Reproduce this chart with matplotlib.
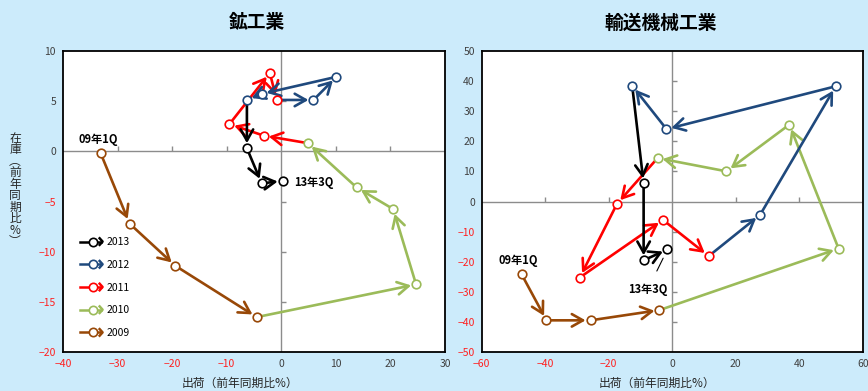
import matplotlib
matplotlib.use("Agg")
import matplotlib.pyplot as plt
from matplotlib.lines import Line2D
from matplotlib.legend_handler import HandlerBase
from matplotlib import markers

plt.rcParams['font.family'] = ['Noto Sans CJK JP', 'DejaVu Sans']

# quarters 2009Q1 .. 2013Q3
years = ["2009", "2010", "2011", "2012", "2013"]
year_colors = ["#984807", "#9BBB59", "#FF0000", "#1F497D", "#000000"]
quarters_per_year = [4, 4, 4, 4, 3]

# 鉱工業: shipments (x) / inventory (y), % y/y
mining_ship = [-33.1, -27.8, -19.4, -4.5,
               24.7, 20.5, 13.8, 4.9,
               -3.2, -9.5, -2.1, -0.85,
               5.9, 10.1, -3.6, -6.3,
               -6.3, -3.6, 0.25]
mining_inv = [-0.2, -7.2, -11.4, -16.5,
              -13.25, -5.75, -3.6, 0.8,
              1.55, 2.7, 7.8, 5.1,
              5.1, 7.4, 5.7, 5.1,
              0.3, -3.2, -2.95]

# 輸送機械工業
trans_ship = [-47.4, -39.6, -25.7, -4.0,
              52.4, 36.9, 17.1, -4.6,
              -17.4, -29.1, -2.9, 11.5,
              27.7, 51.5, -1.8, -12.6,
              -9.0, -9.0, -1.5]
trans_inv = [-24.2, -39.4, -39.4, -36.0,
             -15.6, 25.5, 10.0, 14.4,
             -0.8, -25.2, -6.1, -18.1,
             -4.4, 38.2, 24.0, 38.4,
             6.0, -19.5, -15.9]

mining_xticks = list(range(-40, 31, 10))
mining_yticks = list(range(-20, 11, 5))
trans_xticks = list(range(-60, 61, 20))
trans_yticks = list(range(-50, 51, 10))

first_label = "09年1Q"
last_label = "13年3Q"

bg = "#CCEBFB"
neg_color = "#FF2020"
pos_color = "#404040"


class ArrowLegendHandler(HandlerBase):
    def create_artists(self, legend, orig_handle, xdescent, ydescent,
                       width, height, fontsize, trans):
        c = orig_handle.get_color()
        y = height / 2 - ydescent
        x0, x1 = -xdescent, width - xdescent
        line = Line2D([x0, x1 - 1], [y, y], color=c, lw=1.8, transform=trans)
        hw = height * 0.45
        head = Line2D([x1 - hw * 0.9, x1, x1 - hw * 0.9], [y + hw, y, y - hw],
                      color=c, lw=1.8, transform=trans)
        dot = Line2D([(x0 + x1) / 2 + 1], [y], marker="o", markersize=6,
                     mfc="white", mec=c, mew=1.2, lw=0, transform=trans)
        return [line, head, dot]


def draw_path(ax, xs, ys):
    # each year's path starts from the previous year's Q4 point
    seg_color = []
    for yi, n in enumerate(quarters_per_year):
        seg_color += [year_colors[yi]] * n
    for i in range(1, len(xs)):
        ax.annotate("", xy=(xs[i], ys[i]), xytext=(xs[i - 1], ys[i - 1]),
                    arrowprops=dict(arrowstyle="->,head_length=0.8,head_width=0.45",
                                    color=seg_color[i], lw=1.9, shrinkA=0, shrinkB=3.6,
                                    mutation_scale=10),
                    zorder=3)
    for i in range(len(xs)):
        ax.plot(xs[i], ys[i], marker="o", markersize=6.2, mfc="white",
                mec=seg_color[i], mew=1.2, lw=0, zorder=5)


def style_axes(ax, xticks, yticks):
    ax.set_facecolor("white")
    ax.set_xlim(xticks[0], xticks[-1])
    ax.set_ylim(yticks[0], yticks[-1])
    ax.set_xticks(xticks)
    ax.set_yticks(yticks)
    ax.tick_params(length=0, labelsize=7.5, pad=5)
    for s in ax.spines.values():
        s.set_color("black")
        s.set_linewidth(1.3)
    for lab, v in zip(ax.get_xticklabels(), xticks):
        lab.set_color(neg_color if v < 0 else pos_color)
    for lab, v in zip(ax.get_yticklabels(), yticks):
        lab.set_color(neg_color if v < 0 else pos_color)
    ax.axhline(0, color="#8C8C8C", lw=1.0, zorder=1)
    ax.axvline(0, color="#8C8C8C", lw=1.0, zorder=1)
    inner_x = [t for t in xticks[1:-1] if t != 0]
    inner_y = [t for t in yticks[1:-1] if t != 0]
    ax.plot(inner_x, [0] * len(inner_x), lw=0, marker=markers.TICKUP,
            markersize=3.5, mec="#8C8C8C", mew=1.0, zorder=1)
    ax.plot([0] * len(inner_y), inner_y, lw=0, marker=markers.TICKRIGHT,
            markersize=3.5, mec="#8C8C8C", mew=1.0, zorder=1)


fig = plt.figure(figsize=(8.68, 3.91), dpi=100)
fig.patch.set_facecolor(bg)

ax1 = fig.add_axes([63 / 868, 1 - 352.3 / 391, 382 / 868, 301.6 / 391])
ax2 = fig.add_axes([481.7 / 868, 1 - 352.3 / 391, 381 / 868, 301.6 / 391])

style_axes(ax1, mining_xticks, mining_yticks)
style_axes(ax2, trans_xticks, trans_yticks)

draw_path(ax1, mining_ship, mining_inv)
draw_path(ax2, trans_ship, trans_inv)

lbl = dict(fontsize=8, fontweight="bold", color="black", textcoords="offset points")
ax1.annotate(first_label, (mining_ship[0], mining_inv[0]), xytext=(-1.5, 10),
             ha="center", va="center", **lbl)
ax1.annotate(last_label, (mining_ship[-1], mining_inv[-1]), xytext=(8.5, -1),
             ha="left", va="center", **lbl)
ax2.annotate(first_label, (trans_ship[0], trans_inv[0]), xytext=(-2.5, 10),
             ha="center", va="center", **lbl)
ax2.annotate(last_label, (trans_ship[-1], trans_inv[-1]), xytext=(-14, -28.5),
             ha="center", va="center",
             arrowprops=dict(arrowstyle="-", color="black", lw=0.8,
                             shrinkA=7, shrinkB=7), **lbl)

# legend
handles = [Line2D([], [], color=year_colors[i]) for i in range(len(years) - 1, -1, -1)]
labels = [years[i] for i in range(len(years) - 1, -1, -1)]
ax1.legend(handles, labels, handler_map={Line2D: ArrowLegendHandler()},
           loc="lower left", bbox_to_anchor=(0.03, 0.03), frameon=False,
           fontsize=7.5, handlelength=2.2, handletextpad=0.35,
           labelspacing=1.22, borderpad=0)

# titles and axis labels
fig.text(257 / 868, 1 - 23 / 391, "鉱工業", ha="center", va="center",
         fontsize=13.5, fontweight="bold")
fig.text(661 / 868, 1 - 23 / 391, "輸送機械工業", ha="center", va="center",
         fontsize=13.5, fontweight="bold")
fig.text(240 / 868, 1 - 383 / 391, "出荷（前年同期比%）", ha="center", va="center",
         fontsize=8.5, color="#262626")
fig.text(657 / 868, 1 - 383 / 391, "出荷（前年同期比%）", ha="center", va="center",
         fontsize=8.5, color="#262626")
fig.text(15 / 868, 1 - 190 / 391, "在\n庫\n︵\n前\n年\n同\n期\n比\n%\n︶",
         ha="center", va="center", fontsize=8.5, linespacing=0.85, color="#262626")

fig.savefig("out.png", dpi=100, facecolor=bg)
